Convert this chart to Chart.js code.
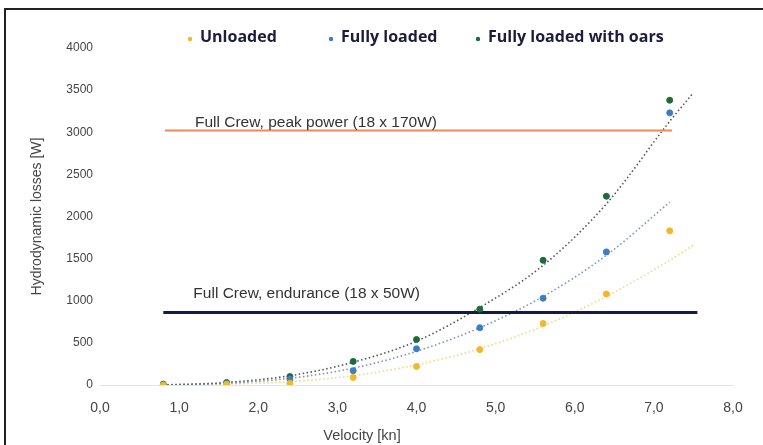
<!DOCTYPE html>
<html>
<head>
<meta charset="utf-8">
<script src="https://cdn.jsdelivr.net/npm/chart.js@4/dist/chart.umd.min.js"></script>
<style>
  html, body { margin: 0; padding: 0; background: #fff; }
  #wrap { position: relative; width: 763px; height: 445px; overflow: hidden; }
  #frame { position: absolute; left: 4px; top: 8px; width: 900px; height: 600px;
           border-left: 2px solid #222; border-top: 2px solid #222; pointer-events: none; }
</style>
</head>
<body>
<div id="wrap">
  <canvas id="chart" width="763" height="445"></canvas>
  <div id="frame"></div>
</div>
<script>
// velocity [kn] of the measured points
const velocity = [0.8, 1.6, 2.4, 3.2, 4.0, 4.8, 5.6, 6.4, 7.2];

// hydrodynamic losses [W]
const unloaded = [0, 10, 20, 90, 220, 420, 730, 1080, 1830];
const fullyLoaded = [0, 20, 70, 170, 430, 680, 1030, 1580, 3230];
const withOars = [10, 30, 100, 280, 540, 900, 1480, 2240, 3380];

// dotted trend lines
const trendUnloadedX = [0.8, 1.6, 2.4, 3.2, 4.0, 4.8, 5.6, 6.4, 7.2, 7.5];
const trendUnloaded = [0, 10, 40, 110, 240, 430, 700, 1050, 1480, 1660];
const trendLoadedX = [0.8, 1.6, 2.4, 3.2, 4.0, 4.8, 5.6, 6.4, 7.2];
const trendLoaded = [0, 20, 80, 200, 400, 680, 1050, 1540, 2170];
const trendOarsX = [0.8, 1.6, 2.4, 3.2, 4.0, 4.8, 5.6, 6.4, 7.2, 7.5];
const trendOars = [0, 30, 110, 270, 520, 920, 1420, 2150, 3130, 3470];

// crew power levels
const peakX = [0.82, 7.23];
const peakPower = 3020;
const enduranceX = [0.8, 7.55];
const endurancePower = 860;

const xTicks = [0, 1, 2, 3, 4, 5, 6, 7, 8];
const yTicks = [0, 500, 1000, 1500, 2000, 2500, 3000, 3500, 4000];

const legendItems = [
  { text: "Unloaded", color: "#f2b72a", x: 190 },
  { text: "Fully loaded", color: "#3e7cc4", x: 331 },
  { text: "Fully loaded with oars", color: "#1e6b3a", x: 478 },
];

const pts = (xs, ys) => xs.map((x, i) => ({ x, y: ys[i] }));
const flat = (xs, y) => xs.map(x => ({ x, y }));

function trend(xs, ys, color) {
  return {
    data: pts(xs, ys),
    showLine: true,
    borderColor: color,
    borderWidth: 1.6,
    borderDash: [1.5, 2.5],
    pointRadius: 0,
    cubicInterpolationMode: "monotone",
    order: 5,
  };
}

function points(ys, color) {
  return {
    data: pts(velocity, ys),
    showLine: false,
    backgroundColor: color,
    borderColor: color,
    pointRadius: 3,
    order: 1,
  };
}

const extras = {
  id: "extras",
  afterDraw(chart) {
    const { ctx, scales } = chart;
    const x = scales.x, y = scales.y;
    ctx.save();
    // legend
    ctx.font = "bold 16px 'Open Sans'";
    ctx.textBaseline = "middle";
    legendItems.forEach(item => {
      ctx.fillStyle = item.color;
      ctx.beginPath();
      ctx.arc(item.x, 39, 2.2, 0, Math.PI * 2);
      ctx.fill();
      ctx.fillStyle = "#1c1c3c";
      ctx.fillText(item.text, item.x + 10, 37);
    });
    // line labels
    ctx.font = "15.5px 'Liberation Sans'";
    ctx.fillStyle = "#333";
    ctx.textBaseline = "alphabetic";
    ctx.fillText("Full Crew, peak power (18 x 170W)", x.getPixelForValue(1.2), y.getPixelForValue(peakPower) - 4);
    ctx.fillText("Full Crew, endurance (18 x 50W)", x.getPixelForValue(1.18), y.getPixelForValue(endurancePower) - 15);
    // x axis title
    ctx.font = "14.5px 'Liberation Sans'";
    ctx.fillStyle = "#444";
    ctx.textAlign = "center";
    ctx.textBaseline = "middle";
    ctx.fillText("Velocity [kn]", 362, 436);
    ctx.restore();
  }
};

new Chart(document.getElementById("chart"), {
  type: "scatter",
  data: {
    datasets: [
      trend(trendOarsX, trendOars, "#4f5a54"),
      trend(trendLoadedX, trendLoaded, "#7f92bd"),
      trend(trendUnloadedX, trendUnloaded, "#efd97a"),
      {
        data: flat(peakX, peakPower),
        showLine: true,
        borderColor: "#f08a5d",
        borderWidth: 2,
        pointRadius: 0,
        order: 4,
      },
      {
        data: flat(enduranceX, endurancePower),
        showLine: true,
        borderColor: "#141a4a",
        borderWidth: 3,
        pointRadius: 0,
        order: 4,
      },
      points(unloaded, "#f2b72a"),
      points(fullyLoaded, "#3e7cc4"),
      points(withOars, "#1e6b3a"),
    ],
  },
  options: {
    responsive: false,
    animation: false,
    layout: { padding: { top: 48, left: 5, right: 30, bottom: 0 } },
    plugins: {
      legend: { display: false },
      tooltip: { enabled: false },
    },
    scales: {
      x: {
        min: 0,
        max: 8,
        afterBuildTicks: s => { s.ticks = xTicks.map(v => ({ value: v })); },
        afterFit: s => { s.height = 60; },
        grid: { display: false, drawTicks: false },
        border: { color: "#e4e4e4", width: 1 },
        ticks: {
          padding: 15,
          color: "#444",
          font: { family: "'Liberation Sans'", size: 14 },
          callback: v => v.toFixed(1).replace(".", ","),
        },
      },
      y: {
        min: 0,
        max: 4000,
        afterBuildTicks: s => { s.ticks = yTicks.map(v => ({ value: v })); },
        afterFit: s => { s.width = 95; },
        grid: { display: false, drawTicks: false },
        border: { display: false },
        ticks: {
          padding: 7,
          color: "#444",
          font: { family: "'Liberation Sans'", size: 12 },
          callback: v => String(v),
        },
        title: {
          display: true,
          text: "Hydrodynamic losses [W]",
          color: "#444",
          font: { family: "'Liberation Sans'", size: 14 },
          padding: { top: 24, bottom: 0 },
        },
      },
    },
  },
  plugins: [extras],
});
</script>
</body>
</html>
